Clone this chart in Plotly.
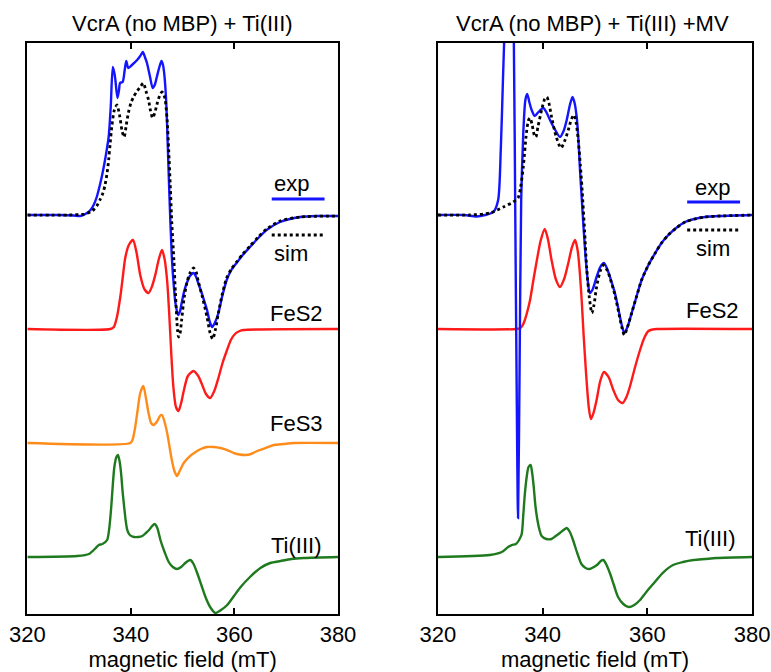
import plotly.graph_objects as go

# ---- Field axis (mT) and tick labels ----
field_ticks = [320, 340, 360, 380]

# ---- Left panel: VcrA (no MBP) + Ti(III) ----
left_exp_B = [320, 326, 329, 330.2, 331.2, 332.2, 332.8, 333.4, 334.1, 334.6, 335.1, 335.7, 336.1, 336.5,
              336.8, 337.0, 337.4, 337.7, 337.9, 338.4, 338.8, 339.1, 339.5, 340.2, 341.2, 341.8, 342.3,
              342.7, 343.1, 343.7, 344.2, 344.6, 345.0, 345.5, 345.9, 346.2, 346.5, 346.8, 347.0, 347.4,
              347.9, 348.3, 348.6, 349.1, 349.5, 349.8, 350.3, 350.8, 351.4, 352.1, 352.6, 353.0, 353.8,
              354.7, 355.3, 355.7, 356.2, 356.9, 357.6, 358.5, 359.4, 360.4, 361.6, 363.0, 364.6, 366.2,
              368.8, 372.7, 376, 380]
left_exp_I = [0, 0, -0.5, -1, 1, 5, 10, 18, 32, 44, 58, 78, 108, 148,
              142, 135, 117, 125, 132, 133, 145, 154, 147, 150, 155, 159, 163,
              158, 152, 138, 127, 130, 138, 148, 154, 150, 138, 115, 88, 25,
              -42, -72, -88, -100, -96, -88, -76, -68, -61, -58, -62, -68, -80,
              -95, -108, -112, -108, -98, -82, -65, -55, -48, -40, -32, -23, -15,
              -7, -2, -1, -1]

left_sim_B = [320, 328, 331, 332.5, 333.4, 334.1, 334.6, 335.0, 335.4, 335.7, 336.0, 336.3, 336.8, 337.3,
              337.8, 338.3, 338.7, 339.1, 339.5, 340.0, 340.5, 341.2, 341.8, 342.4, 342.9, 343.4, 343.8,
              344.2, 344.6, 345.1, 345.6, 346.0, 346.3, 346.6, 347.0, 347.3, 347.6, 347.9, 348.3, 348.6,
              349.0, 349.2, 349.5, 349.8, 350.3, 350.8, 351.4, 352.1, 352.6, 353.0, 353.8, 354.7, 355.3,
              355.8, 356.3, 356.9, 357.6, 358.5, 359.4, 360.4, 361.6, 363.0, 364.6, 366.2, 368.8, 372.7, 380]
left_sim_I = [0, 0, 1, 4, 9, 16, 22, 30, 42, 55, 72, 88, 105, 110,
              100, 84, 78, 90, 102, 112, 118, 124, 128, 132, 124, 115, 104,
              97, 102, 112, 120, 123, 121, 116, 95, 65, 30, -8, -45, -78,
              -115, -122, -118, -105, -82, -68, -58, -53, -57, -66, -82, -102, -118,
              -124, -115, -98, -80, -63, -54, -47, -39, -31, -22, -14, -6, -2, -1]

left_fes2_B = [320, 336.0, 336.7, 337.3, 338.0, 338.5, 338.9, 339.6, 340.4, 341.1, 341.8, 342.6, 343.4,
               344.1, 344.7, 345.4, 346.0, 346.5, 347.0, 347.4, 347.8, 348.2, 348.7, 349.2, 349.7, 350.2,
               351.0, 352.1, 353.0, 353.7, 354.5, 355.3, 356.1, 356.9, 357.7, 358.5, 359.3, 360.1, 361.0,
               361.7, 380]
left_fes2_I = [0, 0, 2, 12, 34, 55, 71, 84, 89, 76, 54, 40, 36,
               43, 54, 70, 79, 70, 48, 15, -25, -58, -78, -82, -74, -62,
               -47, -42, -47, -55, -65, -69, -62, -49, -34, -22, -11, -5, -2,
               -1, 0]

left_fes3_B = [320, 339.9, 340.3, 340.8, 341.3, 341.8, 342.4, 342.9, 343.4, 343.9, 344.4, 345.1, 345.6,
               346.0, 346.5, 347.0, 347.5, 347.9, 348.4, 348.9, 349.5, 350.2, 351.2, 352.2, 353.5, 354.7,
               356.0, 357.3, 358.6, 359.9, 361.0, 362.1, 363.2, 364.4, 366.0, 367.6, 369.5, 371.5, 380]
left_fes3_I = [0, 0, 3, 15, 33, 50, 57, 45, 30, 20, 18, 22, 27,
               28, 21, 10, -5, -17, -28, -33, -27, -20, -14, -10, -6, -4,
               -4, -5, -7, -10, -11.5, -12, -11, -8, -5, -2, -1, 0, 0]

left_ti_B = [320, 329.6, 331.9, 333.2, 333.8, 334.5, 335.4, 335.8, 336.2, 336.5, 336.8, 337.2, 337.5,
             337.8, 338.1, 338.4, 338.7, 339.0, 339.3, 339.8, 340.6, 341.4, 342.2, 342.9, 343.5, 344.1,
             344.6, 345.1, 345.7, 346.5, 347.3, 348.1, 348.9, 349.7, 350.5, 351.0, 351.5, 352.1, 352.8,
             353.6, 354.4, 355.3, 356.3, 357.4, 358.6, 359.9, 361.2, 363.0, 365.0, 366.9, 368.9, 371.0,
             373.4, 380]
left_ti_I = [0, 1, 3, 9, 12, 13, 17, 28, 50, 72, 90, 100, 102,
             96, 84, 65, 50, 36, 27, 22, 20, 20, 21, 24, 27, 31,
             33, 29, 17, 5, -5, -10, -12, -10, -6, -4, -3, -7, -16,
             -28, -40, -50, -56, -53, -48, -39, -30, -20, -11, -6, -4, -2,
             -1, 0]

# ---- Right panel: VcrA (no MBP) + Ti(III) + MV ----
right_exp_B = [320, 325, 327.4, 329, 330.6, 331.5, 332.0, 332.4, 332.8, 333.3, 333.7, 334.1, 334.5, 334.8,
               335.0, 335.3, 335.6, 335.9, 336.3, 336.7, 337.05, 337.5, 337.9, 338.5, 339.2, 340.1, 340.7,
               341.4, 342.4, 343.3, 344.0, 344.6, 345.2, 345.7, 346.1, 346.5, 346.8, 347.1, 347.6, 348.1,
               348.6, 349.0, 349.5, 350.3, 351.0, 351.7, 352.4, 353.1, 353.8, 354.5, 355.1, 355.6, 356.2,
               357.0, 357.9, 358.9, 360.2, 361.5, 362.7, 364.0, 365.5, 367.2, 369.0, 371.0, 374.0, 380]
right_exp_I = [0, 0, -1.5, 0, 3, 15, 65, 132, 200, 300, 330, 280, 172, -20,
               -150, -303, -150, 15, 82, 115, 121, 112, 105, 99, 103, 107, 103,
               95, 85, 78, 84, 95, 110, 118, 112, 98, 78, 48, 5, -35,
               -65, -78, -75, -62, -52, -48, -55, -66, -78, -95, -110, -118, -112,
               -98, -82, -65, -50, -38, -28, -20, -13, -7, -4, -2, -1, 0]

right_sim_B = [320, 326, 329.9, 332.5, 334.4, 335.3, 335.8, 336.3, 336.9, 337.3, 337.6, 338.0, 338.4, 338.7,
               339.1, 339.8, 340.4, 340.8, 341.2, 341.7, 342.6, 343.5, 344.2, 344.9, 345.5, 346.0, 346.4,
               346.8, 347.2, 347.5, 348.0, 348.4, 348.9, 349.4, 349.8, 350.3, 351.0, 351.6, 352.4, 353.1,
               353.8, 354.5, 355.1, 355.6, 356.2, 357.0, 357.9, 358.9, 360.2, 361.5, 362.7, 364.0, 365.5,
               367.2, 369.0, 371.0, 374.0, 380]
right_sim_I = [0, 0, 2, 8, 13, 17, 28, 48, 82, 95, 97, 90, 80, 78,
               88, 105, 116, 118, 112, 98, 78, 67, 74, 85, 96, 100, 92,
               75, 50, 28, -15, -52, -82, -98, -90, -72, -56, -50, -56, -67,
               -80, -97, -112, -120, -112, -98, -82, -65, -50, -38, -28, -20, -13,
               -7, -4, -2, -1, 0]

right_fes2_B = [320, 335.0, 335.7, 336.2, 336.6, 337.1, 337.6, 338.2, 338.9, 339.6, 340.4, 341.0, 341.7,
                342.5, 343.3, 344.1, 344.9, 345.6, 346.2, 346.7, 347.1, 347.5, 347.8, 348.3, 348.8, 349.2,
                349.7, 350.3, 351.0, 351.7, 352.6, 353.5, 354.4, 355.3, 356.0, 356.7, 357.6, 358.6, 359.4,
                360.2, 361.0, 361.8, 380]
right_fes2_I = [0, 0, 1, 4, 9, 18, 29, 48, 69, 88, 100, 90, 69,
                50, 42, 50, 66, 82, 89, 78, 56, 25, -4, -45, -78, -90,
                -84, -71, -52, -43, -48, -61, -71, -74, -68, -57, -39, -21, -9,
                -2, -0.5, 0, 0]

right_ti_B = [320, 329.9, 332.2, 333.4, 334.1, 334.9, 335.5, 336.0, 336.3, 336.6, 337.0, 337.3, 337.7,
              338.0, 338.3, 338.6, 339.0, 339.4, 339.8, 340.7, 341.7, 342.5, 343.3, 344.0, 344.6, 345.2,
              345.8, 346.6, 347.4, 348.2, 349.0, 349.8, 350.6, 351.1, 351.6, 352.2, 352.9, 353.6, 354.4,
              355.4, 356.4, 357.5, 358.6, 359.8, 361.1, 362.9, 364.9, 366.8, 368.8, 371.0, 373.2, 380]
right_ti_I = [0, 2, 5, 10, 12, 13, 17, 23, 42, 63, 82, 90, 92,
              84, 70, 52, 37, 27, 21, 18, 18, 21, 24, 27, 29, 25,
              17, 4, -7, -11, -12, -10, -7, -4, -3, -8, -17, -28, -40,
              -47, -50, -48, -43, -35, -27, -16, -8, -5, -3, -2, -1, 0]

# vertical stacking of the spectra (baseline of each trace)
OFF_EXP, OFF_FES2, OFF_FES3, OFF_TI = 399, 285, 171, 57
Y_RANGE = [0, 571]

BLUE = "#1414ff"
RED = "#ff1a1a"
ORANGE = "#ff8c1a"
GREEN = "#1f7a1f"
FONT = "Liberation Sans, Arial, sans-serif"
FS = 22
LW = 2.4

fig = go.Figure()


def add_trace(B, I, off, color, axis, dash=None, width=LW):
    xa, ya = axis
    fig.add_trace(go.Scatter(
        x=B, y=[off + v for v in I], mode="lines",
        line=dict(color=color, width=width, shape="spline", smoothing=0.7, dash=dash),
        xaxis=xa, yaxis=ya, showlegend=False, hoverinfo="skip", cliponaxis=True))


L = ("x", "y")
R = ("x2", "y2")

add_trace(left_ti_B, left_ti_I, OFF_TI, GREEN, L)
add_trace(left_fes3_B, left_fes3_I, OFF_FES3, ORANGE, L)
add_trace(left_fes2_B, left_fes2_I, OFF_FES2, RED, L)
add_trace(left_exp_B, left_exp_I, OFF_EXP, BLUE, L)
add_trace(left_sim_B, left_sim_I, OFF_EXP, "black", L, dash="3px,3px", width=2.8)

add_trace(right_ti_B, right_ti_I, OFF_TI, GREEN, R)
add_trace(right_fes2_B, right_fes2_I, OFF_FES2, RED, R)
add_trace(right_exp_B, right_exp_I, OFF_EXP, BLUE, R)
add_trace(right_sim_B, right_sim_I, OFF_EXP, "black", R, dash="3px,3px", width=2.8)

xcommon = dict(range=[320, 380], tickvals=field_ticks, ticks="inside", ticklen=6, tickwidth=2,
               tickcolor="black", showline=True, linewidth=2, linecolor="black", mirror="ticks",
               showgrid=False, zeroline=False, automargin=False,
               tickfont=dict(family=FONT, size=FS, color="black"),
               title=dict(text="magnetic field (mT)", font=dict(family=FONT, size=FS, color="black"),
                          standoff=2))
ycommon = dict(range=Y_RANGE, showticklabels=False, ticks="", showline=True, linewidth=2,
               linecolor="black", mirror=True, showgrid=False, zeroline=False, automargin=False)

fig.update_layout(
    width=771, height=672, margin=dict(l=0, r=0, t=0, b=0, autoexpand=False),
    paper_bgcolor="white", plot_bgcolor="white",
    xaxis=dict(domain=[0.0355, 0.4384], anchor="y", **xcommon),
    yaxis=dict(domain=[0.0863, 0.936], anchor="x", **ycommon),
    xaxis2=dict(domain=[0.568, 0.9755], anchor="y2", **xcommon),
    yaxis2=dict(domain=[0.0863, 0.936], anchor="x2", **ycommon),
)

ann = []


def label(text, x, y, axis):
    ann.append(dict(text=text, x=x, y=y, xref=axis[0], yref=axis[1], showarrow=False,
                    font=dict(family=FONT, size=FS, color="black"), xanchor="center", yanchor="middle"))


label("exp", 371.0, 431, L)
label("sim", 371.0, 361, L)
label("FeS2", 372.0, 301, L)
label("FeS3", 372.0, 191, L)
label("Ti(III)", 372.0, 69, L)

label("exp", 372.5, 427, R)
label("sim", 372.5, 366, R)
label("FeS2", 372.5, 304, R)
label("Ti(III)", 372.0, 76, R)

for text, xc in [("VcrA (no MBP) + Ti(III)", 0.237), ("VcrA (no MBP) + Ti(III) +MV", 0.768)]:
    ann.append(dict(text=text, x=xc, y=1 - 24 / 672, xref="paper", yref="paper", showarrow=False,
                    font=dict(family=FONT, size=FS, color="black"), xanchor="center", yanchor="middle"))

fig.update_layout(annotations=ann)

# key lines under the "exp" / "sim" labels
for axis, x0, x1, ye, ys in [(L, 367.2, 377.4, 415, 379), (R, 367.6, 377.7, 412, 384)]:
    fig.add_shape(type="line", x0=x0, x1=x1, y0=ye, y1=ye, xref=axis[0], yref=axis[1],
                  line=dict(color=BLUE, width=2.8))
    fig.add_shape(type="line", x0=x0, x1=x1, y0=ys, y1=ys, xref=axis[0], yref=axis[1],
                  line=dict(color="black", width=2.8, dash="3px,3px"))

fig.write_html("out.html")
